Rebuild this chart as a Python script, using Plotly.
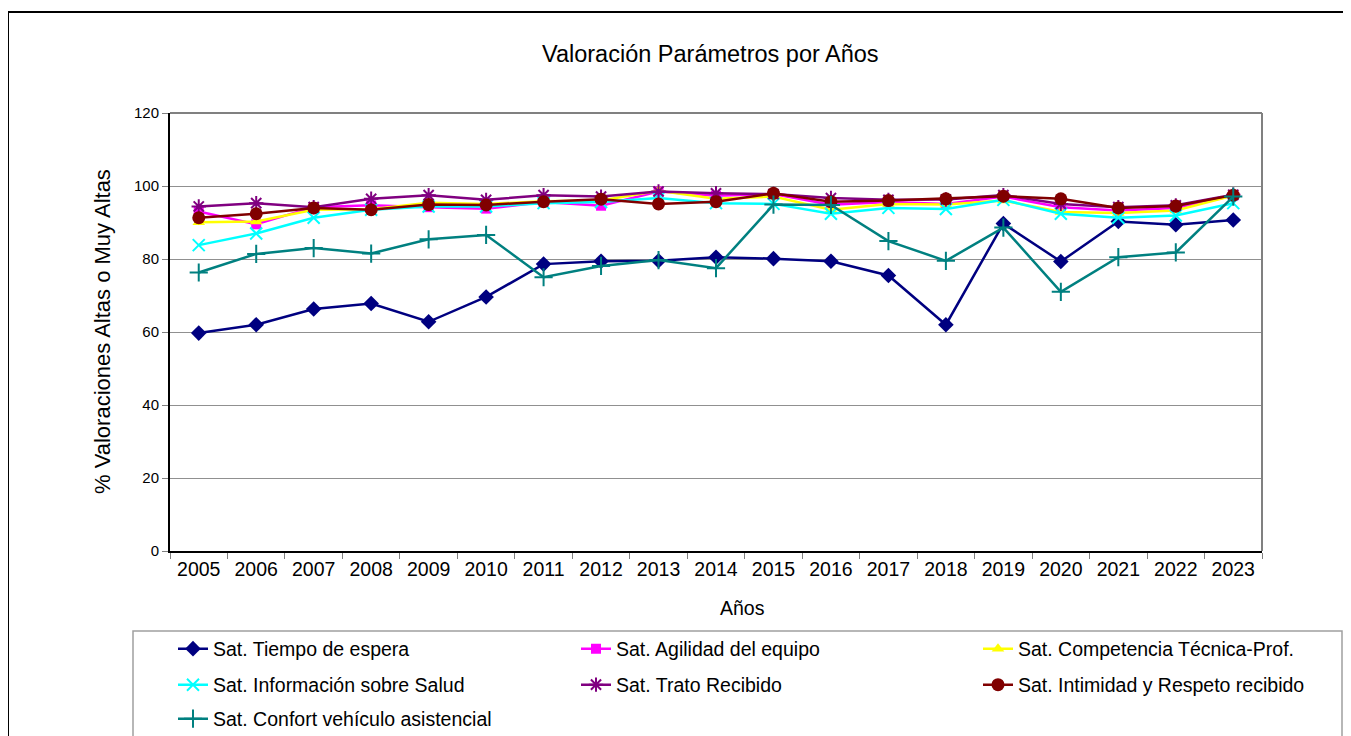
import plotly.graph_objects as go

years = ["2005", "2006", "2007", "2008", "2009", "2010", "2011", "2012", "2013", "2014",
         "2015", "2016", "2017", "2018", "2019", "2020", "2021", "2022", "2023"]

tiempo = [59.7, 62.0, 66.3, 67.8, 62.8, 69.6, 78.6, 79.4, 79.5, 80.5, 80.1, 79.4, 75.5, 62.0, 89.7, 79.3, 90.3, 89.4, 90.7]
agilidad = [93.0, 89.5, 94.2, 94.7, 94.2, 93.8, 95.6, 94.6, 98.5, 97.3, 97.8, 94.9, 95.6, 95.1, 97.1, 94.2, 93.3, 94.0, 97.4]
competencia = [90.1, 90.3, 93.5, 93.6, 95.4, 95.1, 95.8, 96.0, 98.7, 96.5, 97.1, 93.5, 95.1, 94.9, 96.0, 92.9, 92.6, 93.3, 97.4]
informacion = [83.8, 87.0, 91.3, 93.5, 94.4, 94.4, 95.3, 95.6, 96.7, 95.3, 95.1, 92.4, 94.0, 93.7, 96.2, 92.4, 91.3, 91.9, 95.3]
trato = [94.4, 95.3, 94.2, 96.5, 97.5, 96.2, 97.5, 97.1, 98.5, 98.0, 97.8, 96.7, 96.2, 96.3, 97.5, 95.1, 94.2, 94.7, 97.6]
intimidad = [91.3, 92.4, 94.0, 93.5, 94.9, 94.8, 95.7, 96.4, 95.1, 95.7, 98.0, 95.7, 96.0, 96.5, 97.2, 96.5, 94.0, 94.5, 97.5]
confort = [76.3, 81.4, 83.0, 81.5, 85.4, 86.6, 75.0, 78.1, 79.7, 77.5, 94.9, 94.8, 84.9, 79.5, 88.6, 71.0, 80.5, 81.8, 97.1]

series_names = ["Sat. Tiempo de espera", "Sat. Agilidad del equipo", "Sat. Competencia Técnica-Prof.",
                "Sat. Información sobre Salud", "Sat. Trato Recibido", "Sat. Intimidad y Respeto recibido",
                "Sat. Confort vehículo asistencial"]
series_values = [tiempo, agilidad, competencia, informacion, trato, intimidad, confort]

colors = ["#000080", "#FF00FF", "#FFFF00", "#00FFFF", "#800080", "#800000", "#008080"]
symbols = ["diamond", "square", "triangle-up", "x-thin-open", "asterisk-open", "circle", "cross-thin-open"]
sizes = [12, 10, 11, 12, 12, 13, 13]

FONT = "Liberation Sans, Arial, sans-serif"

# page body margin offset (default 8px)
OFF = 8
W, H = 1351 - OFF, 736 - OFF
# plot area in screen pixels
PL, PR, PT, PB = 170, 1262, 113, 551


def px(xp):
    return (xp - PL) / (PR - PL)


def py(yp):
    return (PB - yp) / (PB - PT)


# legend positions (col left px, row center px) in screen pixels
leg_cols = [173, 576, 978]
leg_rows = [649, 685, 719]

fig = go.Figure()
for i, (name, vals) in enumerate(zip(series_names, series_values)):
    r, c = divmod(i, 3)
    lname = "legend" if i == 0 else f"legend{i+1}"
    mk = dict(symbol=symbols[i], size=sizes[i], color=colors[i])
    if symbols[i].endswith("open"):
        mk["line"] = dict(color=colors[i], width=2)
    else:
        mk["line"] = dict(width=0)
    fig.add_trace(go.Scatter(
        x=years, y=vals, name=name, mode="lines+markers",
        line=dict(color=colors[i], width=2.5),
        marker=mk, legend=lname, showlegend=True,
    ))
    fig.layout[lname] = dict(
        x=px(leg_cols[c]), y=py(leg_rows[r]), xanchor="left", yanchor="middle",
        orientation="h", bgcolor="rgba(0,0,0,0)", borderwidth=0,
        font=dict(family=FONT, size=19.5, color="black"),
    )

shapes = [
    # outer chart frame
    dict(type="rect", xref="paper", yref="paper", x0=px(8), x1=px(1346), y0=py(780), y1=py(12),
         line=dict(color="black", width=2), fillcolor="rgba(0,0,0,0)"),
    # plot area right and top border
    dict(type="line", xref="paper", yref="paper", x0=1, x1=1, y0=0, y1=1,
         line=dict(color="#808080", width=2)),
    dict(type="line", xref="paper", yref="paper", x0=0, x1=1, y0=1, y1=1,
         line=dict(color="#808080", width=2)),
    # legend box
    dict(type="rect", xref="paper", yref="paper", x0=px(133), x1=px(1342), y0=py(780), y1=py(631),
         line=dict(color="#A0A0A0", width=1.5), fillcolor="rgba(0,0,0,0)"),
]

annotations = [
    dict(text="Valoración Parámetros por Años", xref="paper", yref="paper", x=px(710), y=py(54),
         xanchor="center", yanchor="middle", showarrow=False,
         font=dict(family=FONT, size=23.5, color="black")),
    dict(text="% Valoraciones Altas o Muy Altas", xref="paper", yref="paper", x=px(102), y=py(332),
         xanchor="center", yanchor="middle", showarrow=False, textangle=-90,
         font=dict(family=FONT, size=22, color="black")),
    dict(text="Años", xref="paper", yref="paper", x=px(742), y=py(608),
         xanchor="center", yanchor="middle", showarrow=False,
         font=dict(family=FONT, size=19.5, color="black")),
]

fig.update_layout(
    width=W, height=H,
    margin=dict(l=PL - OFF, r=W - (PR - OFF), t=PT - OFF, b=H - (PB - OFF), autoexpand=False),
    paper_bgcolor="white", plot_bgcolor="white",
    font=dict(family=FONT, color="black"),
    shapes=shapes, annotations=annotations,
    xaxis=dict(
        type="category", categoryorder="array", categoryarray=years,
        showline=True, linecolor="black", linewidth=2,
        ticks="outside", tickson="boundaries", ticklen=6, tickcolor="#808080", tickwidth=1,
        showgrid=False, zeroline=False,
        tickfont=dict(size=19.5, color="black"),
        range=[-0.5, len(years) - 0.5],
    ),
    yaxis=dict(
        range=[0, 120], dtick=20, tick0=0,
        showline=True, linecolor="black", linewidth=2,
        ticks="outside", ticklen=6, tickcolor="#808080", tickwidth=1,
        showgrid=True, gridcolor="#909090", gridwidth=1,
        zeroline=False,
        tickfont=dict(size=15, color="black"),
    ),
)

fig.write_html("out.html")
